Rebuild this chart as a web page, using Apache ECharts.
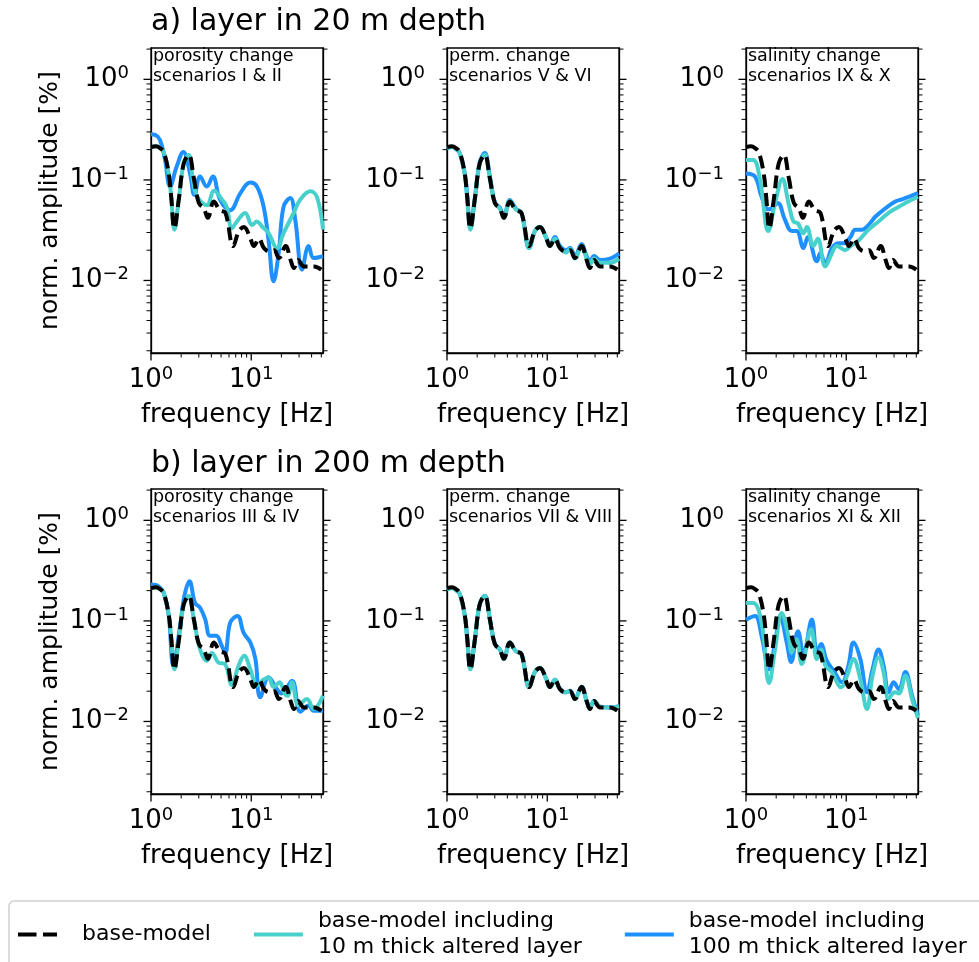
<!DOCTYPE html>
<html>
<head>
<meta charset="utf-8">
<script src="https://cdn.jsdelivr.net/npm/echarts@6/dist/echarts.min.js"></script>
<style>
  html, body { margin: 0; padding: 0; background: #ffffff; }
  #chart { width: 979px; height: 962px; }
</style>
</head>
<body>
<div id="chart"></div>
<script>
// Spectra as [frequency in Hz, normalized amplitude in %] pairs.
const baseModel = [[1.0,0.212],[1.12,0.216],[1.25,0.205],[1.34,0.19],[1.5,0.117],[1.59,0.068],[1.71,0.033],[1.89,0.063],[2.12,0.146],[2.38,0.177],[2.67,0.105],[3.0,0.059],[3.37,0.052],[3.69,0.042],[4.24,0.061],[4.86,0.05],[5.53,0.047],[6.61,0.022],[7.53,0.031],[8.45,0.034],[9.7,0.027],[10.64,0.022],[11.94,0.026],[13.4,0.021],[15.4,0.0195],[16.9,0.02],[18.9,0.0167],[22.0,0.022],[24.7,0.016],[26.7,0.0133],[29.3,0.016],[33.7,0.0138],[42.4,0.0138],[50,0.0128]];

// layer in 20 m depth
const poro20_10m = [[1.0,0.212],[1.12,0.216],[1.25,0.205],[1.34,0.19],[1.5,0.117],[1.59,0.068],[1.71,0.032],[1.89,0.063],[2.12,0.146],[2.38,0.177],[2.65,0.09],[2.9,0.068],[3.6,0.056],[4.27,0.078],[5.1,0.064],[5.7,0.054],[6.4,0.033],[7.2,0.0386],[8.7,0.047],[10.2,0.0357],[11.4,0.0386],[12.8,0.0344],[14.9,0.0295],[18.1,0.021],[21,0.0295],[26.5,0.047],[30.9,0.064],[38.9,0.077],[45.4,0.067],[52,0.032]];
const poro20_100m = [[1.0,0.284],[1.1,0.28],[1.23,0.25],[1.38,0.158],[1.55,0.086],[1.8,0.135],[2.1,0.19],[2.45,0.116],[2.71,0.071],[3.09,0.108],[3.6,0.086],[4.14,0.108],[4.9,0.063],[6.17,0.05],[7.8,0.074],[9.8,0.094],[11.4,0.086],[13.3,0.054],[14.9,0.025],[16.7,0.0098],[18.8,0.019],[21,0.054],[24.5,0.066],[27.5,0.04],[32.1,0.0128],[37.4,0.022],[42,0.0167],[52,0.0174]];
const perm20_10m = [[1.0,0.205],[1.12,0.212],[1.25,0.2],[1.34,0.185],[1.5,0.115],[1.59,0.066],[1.71,0.032],[1.89,0.062],[2.12,0.145],[2.38,0.178],[2.67,0.105],[3.0,0.059],[3.37,0.052],[3.69,0.042],[4.24,0.062],[4.86,0.051],[5.53,0.047],[6.61,0.021],[7.53,0.031],[8.45,0.034],[9.7,0.027],[10.64,0.022],[11.94,0.026],[13.4,0.021],[15.4,0.019],[16.9,0.0205],[18.9,0.0165],[22.0,0.022],[24.7,0.0165],[26.7,0.0145],[29.3,0.0165],[33.7,0.015],[42.4,0.015],[52,0.0165]];
const perm20_100m = [[1.0,0.205],[1.12,0.212],[1.25,0.2],[1.34,0.185],[1.5,0.118],[1.59,0.07],[1.71,0.034],[1.89,0.064],[2.12,0.15],[2.38,0.185],[2.67,0.11],[3.0,0.06],[3.37,0.053],[3.69,0.043],[4.24,0.063],[4.86,0.052],[5.53,0.047],[6.61,0.021],[7.53,0.031],[8.45,0.034],[9.7,0.027],[10.64,0.0225],[11.94,0.027],[13.4,0.022],[15.4,0.02],[16.9,0.021],[18.9,0.0175],[22.0,0.023],[24.7,0.0175],[26.7,0.0155],[29.3,0.0175],[33.7,0.016],[42.4,0.0165],[52,0.0185]];
const sal20_10m = [[1.0,0.158],[1.18,0.158],[1.38,0.1],[1.67,0.031],[1.95,0.059],[2.31,0.102],[2.65,0.059],[2.97,0.0386],[3.3,0.037],[3.74,0.0295],[4.05,0.034],[4.7,0.022],[5.2,0.026],[6.17,0.0138],[7.2,0.0187],[8.07,0.022],[9.8,0.02],[11,0.022],[13.3,0.025],[16.7,0.032],[21,0.0386],[26.5,0.047],[33.4,0.054],[38.9,0.059],[52,0.068]];
const sal20_100m = [[1.0,0.116],[1.23,0.108],[1.43,0.068],[1.67,0.051],[1.8,0.052],[2.07,0.059],[2.45,0.04],[2.86,0.031],[3.2,0.031],[3.74,0.021],[4.14,0.027],[5.1,0.0155],[5.5,0.0187],[6.2,0.0148],[7.2,0.021],[8.4,0.0235],[9.4,0.0235],[11,0.027],[12.3,0.032],[14.4,0.032],[16.7,0.0357],[19.5,0.043],[24.5,0.052],[30.9,0.061],[36,0.064],[42,0.068],[52,0.074]];

// layer in 200 m depth
const poro200_10m = [[1.0,0.212],[1.12,0.216],[1.25,0.205],[1.34,0.19],[1.5,0.117],[1.59,0.068],[1.71,0.033],[1.89,0.063],[2.12,0.146],[2.38,0.177],[2.67,0.105],[3.09,0.052],[3.6,0.04],[4.05,0.048],[4.7,0.0386],[5.5,0.037],[6.4,0.023],[7.47,0.0358],[8.5,0.045],[9.8,0.033],[11.4,0.0227],[13.2,0.026],[14.9,0.0274],[16.7,0.022],[19.2,0.0245],[21.5,0.019],[23,0.018],[25.5,0.0245],[29.7,0.0144],[36,0.0167],[42,0.0133],[52,0.018]];
const poro200_100m = [[1.0,0.23],[1.12,0.228],[1.25,0.21],[1.34,0.19],[1.5,0.115],[1.67,0.036],[1.95,0.089],[2.15,0.176],[2.42,0.248],[2.75,0.151],[3.09,0.135],[3.47,0.104],[3.89,0.071],[4.47,0.071],[5.1,0.056],[5.5,0.048],[6.17,0.096],[7.3,0.112],[8.4,0.076],[9.8,0.061],[11,0.042],[12.3,0.0174],[14.9,0.0275],[18,0.021],[20,0.019],[25.5,0.0254],[30.9,0.0125],[37.4,0.0144],[42,0.0128],[52,0.0128]];
const perm200_10m = [[1.0,0.205],[1.12,0.212],[1.25,0.2],[1.34,0.186],[1.5,0.115],[1.59,0.067],[1.71,0.033],[1.89,0.063],[2.12,0.146],[2.38,0.177],[2.67,0.105],[3.0,0.059],[3.37,0.052],[3.69,0.042],[4.24,0.061],[4.86,0.05],[5.53,0.047],[6.61,0.022],[7.53,0.031],[8.45,0.034],[9.7,0.027],[10.64,0.022],[11.94,0.026],[13.4,0.021],[15.4,0.0195],[16.9,0.02],[18.9,0.0167],[22.0,0.022],[24.7,0.016],[26.7,0.0135],[29.3,0.016],[33.7,0.014],[42.4,0.0138],[52,0.0142]];
const perm200_100m = [[1.0,0.205],[1.12,0.212],[1.25,0.2],[1.34,0.186],[1.5,0.116],[1.59,0.068],[1.71,0.034],[1.89,0.064],[2.12,0.147],[2.38,0.178],[2.67,0.106],[3.0,0.059],[3.37,0.052],[3.69,0.042],[4.24,0.061],[4.86,0.05],[5.53,0.047],[6.61,0.022],[7.53,0.031],[8.45,0.034],[9.7,0.027],[10.64,0.022],[11.94,0.026],[13.4,0.021],[15.4,0.0195],[16.9,0.0202],[18.9,0.017],[22.0,0.0222],[24.7,0.0162],[26.7,0.0136],[29.3,0.016],[33.7,0.014],[42.4,0.0138],[52,0.0142]];
const sal200_10m = [[1.0,0.151],[1.18,0.151],[1.43,0.096],[1.7,0.0241],[1.95,0.052],[2.27,0.12],[2.65,0.0708],[2.86,0.0484],[3.2,0.0656],[3.6,0.0372],[4.47,0.0824],[5.1,0.0417],[5.6,0.052],[6.2,0.0358],[7.2,0.0308],[8.9,0.0219],[10.2,0.0285],[11.8,0.0417],[13.8,0.0264],[16.1,0.0133],[18.3,0.0285],[21,0.0432],[23.6,0.0308],[26.5,0.0167],[30.4,0.0195],[33.5,0.019],[38.9,0.0285],[45.4,0.0167],[52,0.0108]];
const sal200_100m = [[1.0,0.103],[1.23,0.112],[1.43,0.071],[1.7,0.033],[1.95,0.061],[2.19,0.112],[2.55,0.061],[2.82,0.039],[3.3,0.079],[3.74,0.048],[4.54,0.103],[5.1,0.048],[5.6,0.059],[6.4,0.04],[7.5,0.032],[9.06,0.0245],[10.5,0.0358],[11.8,0.061],[13.8,0.042],[16.1,0.0195],[18.3,0.033],[21,0.052],[23.6,0.0358],[26.5,0.0195],[29.7,0.0245],[33.4,0.021],[38.9,0.031],[45.4,0.018],[52,0.0115]];

const panelCurves = [
  [poro20_10m, poro20_100m], [perm20_10m, perm20_100m], [sal20_10m, sal20_100m],
  [poro200_10m, poro200_100m], [perm200_10m, perm200_100m], [sal200_10m, sal200_100m]
];
const panelNotes = [
  'porosity change\nscenarios I & II', 'perm. change\nscenarios V & VI', 'salinity change\nscenarios IX & X',
  'porosity change\nscenarios III & IV', 'perm. change\nscenarios VII & VIII', 'salinity change\nscenarios XI & XII'
];
const rowTitles = ['a) layer in 20 m depth', 'b) layer in 200 m depth'];
const seriesNames = ['base-model', 'base-model including\n10 m thick altered layer', 'base-model including\n100 m thick altered layer'];
const xMajorTicks = [1, 10];
const xMinorTicks = [2, 3, 4, 5, 6, 7, 8, 9, 20, 30, 40, 50];
const yMajorTicks = [0.01, 0.1, 1];
const yMinorTicks = [0.002, 0.003, 0.004, 0.005, 0.006, 0.007, 0.008, 0.009,
  0.02, 0.03, 0.04, 0.05, 0.06, 0.07, 0.08, 0.09,
  0.2, 0.3, 0.4, 0.5, 0.6, 0.7, 0.8, 0.9, 2];

// layout
const FONT = 'DejaVu Sans';
const colLeft = [151, 447, 746];
const colWidth = 172;
const rowTop = [48, 489];
const rowHeight = 305;
const xRange = [1, 52];
const yRange = [0.0019, 2.05];
const colors = { base: '#000000', thin: '#48D1CC', thick: '#1E90FF' };
const LINE_W = 4;

function powerLabel(v) {
  const e = Math.round(Math.log10(v));
  const exp = e < 0 ? '\u2212' + (-e) : String(e);
  return '{b|10}{s|' + exp + '}';
}
const labelRich = {
  b: { fontSize: 26, fontFamily: FONT, color: '#000', lineHeight: 30 },
  s: { fontSize: 18, fontFamily: FONT, color: '#000', lineHeight: 20, verticalAlign: 'top' }
};
const frameLine = { color: '#000', width: 1.3 };

const grids = [], xAxes = [], yAxes = [], series = [], titles = [];

rowTitles.forEach((t, r) => {
  titles.push({
    text: t, left: 151, top: r === 0 ? 5 : 447, padding: 0,
    textStyle: { fontSize: 30, fontWeight: 'normal', fontFamily: FONT, color: '#000', lineHeight: 34 }
  });
});

for (let i = 0; i < 6; i++) {
  const r = Math.floor(i / 3), c = i % 3;
  grids.push({
    left: colLeft[c], top: rowTop[r], width: colWidth, height: rowHeight,
    show: true, borderColor: '#000', borderWidth: 1.3, backgroundColor: 'transparent'
  });
  titles.push({
    text: panelNotes[i], left: colLeft[c] + 2, top: rowTop[r] - 1.5, padding: 0,
    textStyle: { fontSize: 17.5, fontWeight: 'normal', fontFamily: FONT, color: '#000', lineHeight: 20 }
  });
  xAxes.push({
    gridIndex: i, type: 'log', logBase: 10, min: xRange[0], max: xRange[1], position: 'bottom',
    axisLine: { show: true, onZero: false, lineStyle: frameLine },
    axisTick: { show: false },
    axisLabel: { customValues: xMajorTicks, formatter: powerLabel, rich: labelRich, margin: 12 },
    splitLine: { show: false },
    name: 'frequency [Hz]', nameLocation: 'middle', nameGap: 49,
    nameTextStyle: { fontSize: 26, fontFamily: FONT, color: '#000' }
  });
  yAxes.push({
    gridIndex: i, type: 'log', logBase: 10, min: yRange[0], max: yRange[1], position: 'left',
    axisLine: { show: true, onZero: false, lineStyle: frameLine },
    axisTick: { show: false },
    axisLabel: { customValues: yMajorTicks, formatter: powerLabel, rich: labelRich, margin: 22 },
    splitLine: { show: false },
    name: c === 0 ? 'norm. amplitude [%]' : '',
    nameLocation: 'middle', nameGap: 88,
    nameTextStyle: { fontSize: 25, fontFamily: FONT, color: '#000' }
  });
  yAxes.push({
    gridIndex: i, type: 'log', logBase: 10, min: yRange[0], max: yRange[1], position: 'right',
    axisLine: { show: true, onZero: false, lineStyle: frameLine },
    axisTick: { show: false }, axisLabel: { show: false }, splitLine: { show: false }
  });

  const common = { type: 'line', xAxisIndex: i, yAxisIndex: 2 * i, showSymbol: false, symbol: 'none', smooth: 0.4, clip: true, silent: true };
  series.push(Object.assign({}, common, {
    name: seriesNames[2], data: panelCurves[i][1], z: 2,
    lineStyle: { color: colors.thick, width: LINE_W }, itemStyle: { color: colors.thick }
  }));
  series.push(Object.assign({}, common, {
    name: seriesNames[1], data: panelCurves[i][0], z: 3,
    lineStyle: { color: colors.thin, width: LINE_W }, itemStyle: { color: colors.thin }
  }));
  series.push(Object.assign({}, common, {
    name: seriesNames[0], data: baseModel, z: 4,
    lineStyle: { color: colors.base, width: LINE_W, type: [13, 6] }, itemStyle: { color: colors.base }
  }));
}

// legend handles: two dashes for the base model, solid bars for the others
const dashIcon = 'path://M0,0h18.5v4h-18.5zM25,0h14v4h-14zM48.8,1.9h0.2v0.2h-0.2z';
const barIcon = 'path://M0,0h49v4h-49z';
const legendText = { padding: [0, 0, 0, 10] };

const chart = echarts.init(document.getElementById('chart'), null, { renderer: 'canvas' });
chart.setOption({
  animation: false,
  backgroundColor: '#ffffff',
  title: titles,
  grid: grids,
  xAxis: xAxes,
  yAxis: yAxes,
  legend: {
    type: 'plain',
    data: [
      { name: seriesNames[0], icon: dashIcon, textStyle: legendText },
      { name: seriesNames[1], icon: barIcon, textStyle: legendText },
      { name: seriesNames[2], icon: barIcon, textStyle: legendText }
    ],
    left: 9, top: 901, width: 1100, orient: 'horizontal',
    itemWidth: 49, itemHeight: 4, itemGap: 43,
    padding: [8, 60, 40, 9],
    borderColor: '#d0d0d0', borderWidth: 1.5, borderRadius: 5, backgroundColor: '#ffffff',
    textStyle: { fontSize: 22, lineHeight: 25.5, fontFamily: FONT, color: '#000' }
  },
  series: series
});

// log-axis tick marks (decades and their 2..9 subdivisions), pointing outward
function tickLine(x1, y1, x2, y2, w) {
  return { type: 'line', silent: true, z: 10,
    shape: { x1: x1, y1: y1, x2: x2, y2: y2 },
    style: { stroke: '#000', lineWidth: w } };
}
const ticks = [];
for (let i = 0; i < 6; i++) {
  const r = Math.floor(i / 3), c = i % 3;
  const L = colLeft[c], R = colLeft[c] + colWidth, B = rowTop[r] + rowHeight;
  [[xMajorTicks, 7.5, 1.3], [xMinorTicks, 4.5, 1]].forEach(([vals, len, w]) => {
    vals.forEach(v => {
      const x = chart.convertToPixel({ xAxisIndex: i }, v);
      ticks.push(tickLine(x, B, x, B + len, w));
    });
  });
  [[yMajorTicks, 7.5, 1.3], [yMinorTicks, 4.5, 1]].forEach(([vals, len, w]) => {
    vals.forEach(v => {
      const y = chart.convertToPixel({ yAxisIndex: 2 * i }, v);
      ticks.push(tickLine(L - len, y, L, y, w));
      ticks.push(tickLine(R, y, R + len, y, w));
    });
  });
}
chart.setOption({ graphic: ticks });
</script>
</body>
</html>
